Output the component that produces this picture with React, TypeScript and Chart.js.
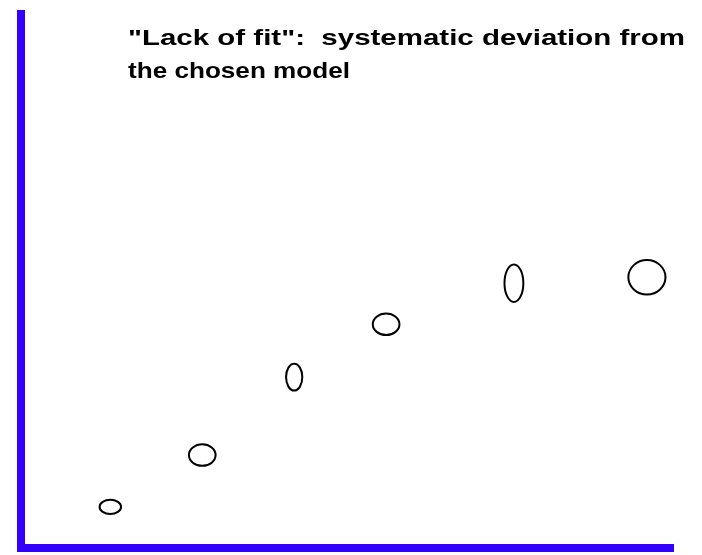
import React, { useEffect, useRef } from "react";
import { Chart, registerables } from "chart.js";

Chart.register(...registerables);

// Measured points: centre (x, y) and the half-extent of each uncertainty ellipse
const xValues = [1.37, 2.78, 4.19, 5.6, 7.56, 9.6];
const yValues = [0.77, 1.74, 3.2, 4.19, 4.96, 5.07];
const xHalfWidths = [0.18, 0.22, 0.14, 0.22, 0.16, 0.3];
const yHalfHeights = [0.15, 0.22, 0.27, 0.22, 0.37, 0.34];

const titleLines = ['"Lack of fit":  systematic deviation from', "the chosen model"];
const titleWidths = [557, 222];

const AXIS_BLUE = "#3300ff";

// Draws every point as an open ellipse sized by its x/y half-extents
const ellipsePlugin = {
  id: "ellipses",
  afterDatasetsDraw(chart: any) {
    const { ctx, scales } = chart;
    const xs = scales.x;
    const ys = scales.y;
    const meta = chart.getDatasetMeta(0);
    ctx.save();
    ctx.strokeStyle = "#000";
    ctx.lineWidth = 2;
    meta.data.forEach((pt: any, i: number) => {
      const rx = Math.abs(xs.getPixelForValue(xValues[i] + xHalfWidths[i]) - pt.x) - 1;
      const ry = Math.abs(ys.getPixelForValue(yValues[i] + yHalfHeights[i]) - pt.y) - 1;
      ctx.beginPath();
      ctx.ellipse(pt.x, pt.y, rx, ry, 0, 0, Math.PI * 2);
      ctx.stroke();
    });
    ctx.restore();
  },
};

// Two-line heading placed inside the plot area, each line fitted to its width
const headingPlugin = {
  id: "heading",
  afterDraw(chart: any) {
    const { ctx, chartArea } = chart;
    const left = chartArea.left + 107;
    const baselines = [45, 78];
    titleLines.forEach((line, i) => {
      ctx.save();
      ctx.fillStyle = "#000";
      ctx.font = "bold 22px 'Liberation Sans', Arial, sans-serif";
      ctx.textAlign = "left";
      ctx.textBaseline = "alphabetic";
      const stretch = titleWidths[i] / ctx.measureText(line).width;
      ctx.translate(left, baselines[i]);
      ctx.scale(stretch, 1);
      ctx.fillText(line, 0, 0);
      ctx.restore();
    });
  },
};

export default function App() {
  const canvasRef = useRef<HTMLCanvasElement | null>(null);

  useEffect(() => {
    document.body.style.margin = "0";
    const canvas = canvasRef.current;
    if (!canvas) return;
    const chart = new Chart(canvas, {
      type: "scatter",
      data: {
        datasets: [
          {
            data: xValues.map((x, i) => ({ x, y: yValues[i] })),
            pointRadius: 0,
            pointHoverRadius: 0,
            showLine: false,
          },
        ],
      },
      options: {
        animation: false,
        responsive: false,
        maintainAspectRatio: false,
        layout: { padding: { left: 21, top: 14, right: 29, bottom: 7 } },
        plugins: {
          legend: { display: false },
          tooltip: { enabled: false },
          title: { display: false },
        },
        scales: {
          x: {
            type: "linear",
            min: 0,
            max: 10,
            ticks: { display: false },
            grid: { display: false },
            border: { display: true, color: AXIS_BLUE, width: 8 },
            afterFit: (scale: any) => {
              scale.height = 0;
            },
          },
          y: {
            type: "linear",
            min: 0,
            max: 10,
            ticks: { display: false },
            grid: { display: false },
            border: { display: true, color: AXIS_BLUE, width: 8 },
            afterFit: (scale: any) => {
              scale.width = 0;
            },
          },
        },
      },
      plugins: [ellipsePlugin, headingPlugin],
    });
    return () => chart.destroy();
  }, []);

  return (
    <div style={{ width: 702, height: 555, background: "#fff" }}>
      <canvas ref={canvasRef} width={702} height={555} />
    </div>
  );
}
